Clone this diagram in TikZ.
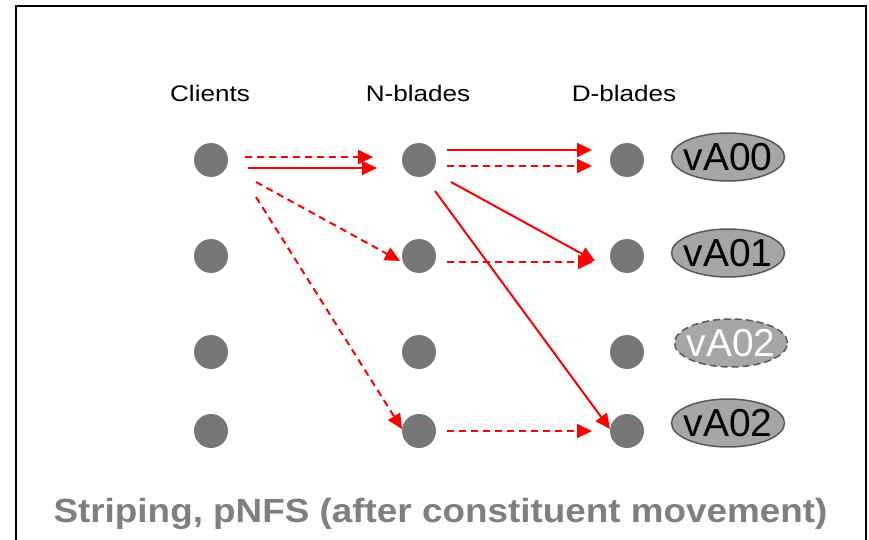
\documentclass[tikz,border=0pt]{standalone}
\usepackage{fontspec}
\setmainfont{Liberation Sans}
\usetikzlibrary{arrows.meta,shapes.geometric}

\definecolor{dotgray}{HTML}{777777}
\definecolor{volfill}{HTML}{A6A6A6}
\definecolor{voledge}{HTML}{595959}
\definecolor{titlegray}{HTML}{7F7F7F}
\definecolor{arrred}{HTML}{FF0000}

% volume label set in a zero-width box so the ellipse keeps its own size
\newcommand{\vollabel}[1]{\makebox[0pt]{#1}}

\tikzset{
  blade/.style={circle, fill=dotgray, minimum size=34pt, inner sep=0pt},
  vol/.style={ellipse, fill=volfill, draw=voledge, line width=1.5pt,
              minimum width=113pt, minimum height=48pt, inner sep=0pt,
              font=\fontsize{39pt}{39pt}\selectfont},
  movedvol/.style={vol, dashed, dash pattern=on 7pt off 4pt, text=white},
  header/.style={anchor=base, font=\fontsize{22.5pt}{22.5pt}\selectfont},
  flow/.style={draw=arrred, line width=2pt,
               -{Triangle[length=15pt,width=14pt]}},
  flowdash/.style={flow, dash pattern=on 7pt off 5pt},
}

\begin{document}
\begin{tikzpicture}[x=1pt, y=-1pt]
  \useasboundingbox (0,0) rectangle (869,540);
  \fill[white] (0,0) rectangle (869,540);

  % outer frame, open at the bottom
  \draw[line width=2pt] (16,540) -- (16,6) -- (866,6) -- (866,540);

  % column headings
  \node[header] (hc) at (210,102) {\scalebox{1.16}[1]{Clients}};
  \node[header] (hn) at (418,102) {\scalebox{1.16}[1]{N-blades}};
  \node[header] (hd) at (624,102) {\scalebox{1.16}[1]{D-blades}};

  % clients
  \node[blade] (c1) at (211,160) {};
  \node[blade] (c2) at (211,256) {};
  \node[blade] (c3) at (211,352) {};
  \node[blade] (c4) at (211,431) {};
  % N-blades
  \node[blade] (n1) at (419,160) {};
  \node[blade] (n2) at (419,256) {};
  \node[blade] (n3) at (419,352) {};
  \node[blade] (n4) at (419,431) {};
  % D-blades
  \node[blade] (d1) at (627,160) {};
  \node[blade] (d2) at (627,256) {};
  \node[blade] (d3) at (627,352) {};
  \node[blade] (d4) at (627,431) {};

  % volumes
  \node[vol] (v0) at (728,157) {\vollabel{vA00}};
  \node[vol] (v1) at (728,253) {\vollabel{vA01}};
  \node[movedvol] (v2old) at (731,343) {\vollabel{vA02}};
  \node[vol] (v2) at (728,423) {\vollabel{vA02}};

  % client to N-blade traffic
  \draw[flowdash] ([shift={(34,-3)}]c1.center) -- ([shift={(-46,-3)}]n1.center);
  \draw[flow]     ([shift={(37,8)}]c1.center)  -- ([shift={(-42,8)}]n1.center);
  \draw[flowdash] ([shift={(45,22)}]c1.center) -- ([shift={(-19,5)}]n2.center);
  \draw[flowdash] ([shift={(45,37)}]c1.center) -- ([shift={(-17,-2)}]n4.center);

  % N-blade to D-blade traffic
  \draw[flow]     ([shift={(28,-10)}]n1.center) -- ([shift={(-35,-10)}]d1.center);
  \draw[flowdash] ([shift={(28,6)}]n1.center)   -- ([shift={(-35,6)}]d1.center);
  \draw[flow]     ([shift={(32,22)}]n1.center)  -- ([shift={(-32,5)}]d2.center);
  \draw[flow]     ([shift={(16,31)}]n1.center)  -- ([shift={(-17,-2)}]d4.center);
  \draw[flowdash] ([shift={(28,6)}]n2.center)   -- ([shift={(-34,6)}]d2.center);
  \draw[flowdash] ([shift={(28,0)}]n4.center)   -- ([shift={(-35,0)}]d4.center);

  % caption
  \node[anchor=base, text=titlegray, font=\fontsize{33.5pt}{33.5pt}\selectfont\bfseries]
    (title) at (440.5,522) {\scalebox{1.1}[1]{Striping, pNFS (after constituent movement)}};
\end{tikzpicture}
\end{document}
